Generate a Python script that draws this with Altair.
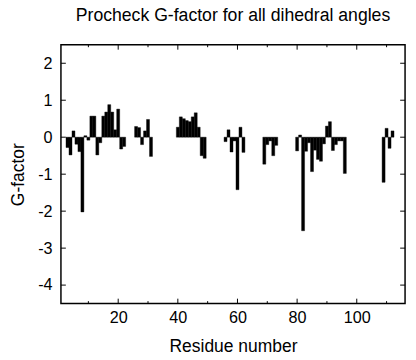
import altair as alt
import pandas as pd

# Residue numbers and their Procheck G-factor values
residues = [3, 4, 5, 6, 7, 8, 9, 10, 11, 12, 13, 14, 15, 16, 17, 18, 19, 20, 21, 22,
            26, 27, 28, 29, 30, 31,
            40, 41, 42, 43, 44, 45, 46, 47, 48, 49,
            56, 57, 58, 59, 60, 61, 62,
            69, 70, 71, 72, 73,
            80, 81, 82, 83, 84, 85, 86, 87, 88, 89, 90, 91, 92, 93, 94, 95, 96,
            109, 110, 111, 112]
gfactor = [-0.28, -0.48, 0.17, -0.19, -0.39, -2.02, 0.04, -0.08, 0.57, 0.57, -0.48, -0.15,
           0.57, 0.68, 0.88, 0.68, 0.20, 0.76, -0.32, -0.25,
           0.29, 0.26, -0.20, 0.17, 0.48, -0.52,
           0.27, 0.55, 0.50, 0.45, 0.42, 0.55, 0.66, 0.27, -0.50, -0.57,
           -0.12, 0.20, -0.40, -0.10, -1.42, 0.27, -0.41,
           -0.73, -0.20, -0.10, -0.50, -0.22,
           -0.37, 0.06, -2.53, -0.38, -0.15, -0.93, -0.35, -0.60, -0.65, -0.18, 0.30, 0.42,
           -0.36, -0.20, -0.10, -0.10, -0.98,
           -1.22, 0.24, -0.30, 0.17]

x_major = [20, 40, 60, 80, 100]
x_minor = [10, 30, 50, 70, 90, 110]
y_ticks = [-4, -3, -2, -1, 0, 1, 2]
x_domain = [0.8, 116.2]
y_domain = [-4.5, 2.5]

TITLE = "Procheck G-factor for all dihedral angles"
X_TITLE = "Residue number"
Y_TITLE = "G-factor"

W, H = 351, 264
FONT = "Liberation Sans"

xs = alt.Scale(domain=x_domain, nice=False, zero=False)
ys = alt.Scale(domain=y_domain, nice=False, zero=False)

x_axis = alt.Axis(values=x_major, ticks=False, domain=False, grid=False,
                  labelPadding=6, labelFontSize=16.5, labelFont=FONT,
                  labelColor="black", title=X_TITLE, titleFont=FONT,
                  titleFontSize=17.8, titleFontWeight="normal",
                  titleColor="black", titlePadding=12)
y_axis = alt.Axis(values=y_ticks, ticks=False, domain=False, grid=False,
                  labelPadding=9, labelFontSize=16.5, labelFont=FONT,
                  labelColor="black",
                  labelExpr="datum.value < 0 ? '-' + abs(datum.value) : '' + datum.value",
                  title=Y_TITLE, titleFont=FONT, titleFontSize=17.8,
                  titleFontWeight="normal", titleColor="black", titlePadding=10)

df = pd.DataFrame({"residue": residues, "g": gfactor})

bars = alt.Chart(df).transform_calculate(
    x0="datum.residue - 0.5", x1="datum.residue + 0.5", base="0"
).mark_bar(color="black", stroke="black", strokeWidth=0.4).encode(
    x=alt.X("x0:Q", scale=xs, axis=x_axis),
    x2="x1:Q",
    y=alt.Y("g:Q", scale=ys, axis=y_axis),
    y2="base:Q",
)

xmaj = pd.DataFrame({"t": x_major})
xmin = pd.DataFrame({"t": x_minor})
yt = pd.DataFrame({"t": y_ticks})


def xrule(data, ya, yb):
    return alt.Chart(data).mark_rule(color="black", strokeWidth=1).encode(
        x=alt.X("t:Q", scale=xs, axis=x_axis), y=alt.value(ya), y2=alt.value(yb))


def yrule(data, xa, xb):
    return alt.Chart(data).mark_rule(color="black", strokeWidth=1).encode(
        y=alt.Y("t:Q", scale=ys, axis=y_axis), x=alt.value(xa), x2=alt.value(xb))


layers = [
    bars,
    xrule(xmaj, H, H - 5), xrule(xmaj, 0, 5),
    xrule(xmin, H, H - 2.5), xrule(xmin, 0, 2.5),
    yrule(yt, 0, 5), yrule(yt, W, W - 5),
]

chart = alt.layer(*layers).properties(
    width=W, height=H,
    title=alt.TitleParams(TITLE, anchor="middle", font=FONT, fontSize=18,
                          fontWeight="normal", color="black", offset=19.5),
    autosize=alt.AutoSizeParams(type="none"),
    padding={"left": 54, "top": 34, "right": 3, "bottom": 52},
).configure_view(stroke="black", strokeWidth=1.5)

chart.save("out.html", embed_options={"renderer": "svg", "actions": False})
